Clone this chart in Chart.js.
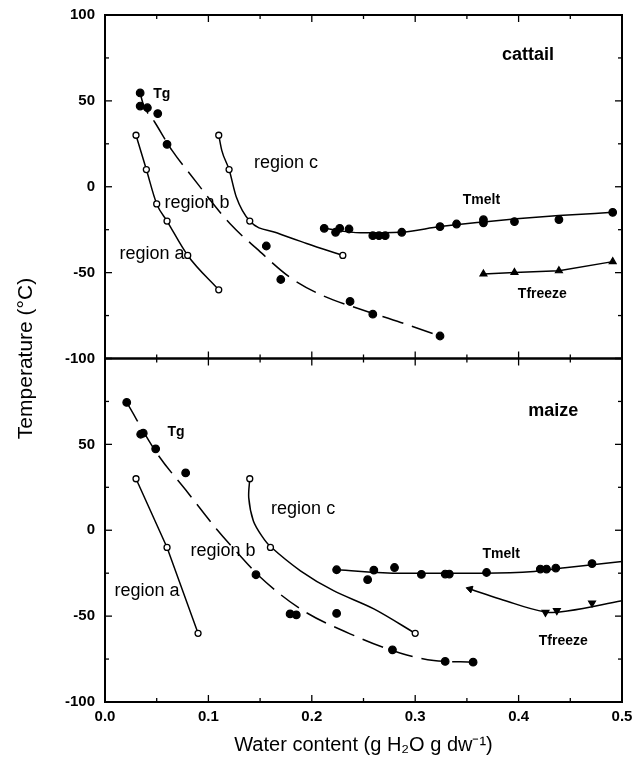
<!DOCTYPE html>
<html>
<head>
<meta charset="utf-8">
<script src="https://cdn.jsdelivr.net/npm/chart.js@4.4.1/dist/chart.umd.min.js"></script>
<style>html,body{margin:0;padding:0;background:#fff;}canvas{display:block;}</style>
</head>
<body>
<canvas id="c" width="635" height="775"></canvas>
<script>
// ---- tick labels ----
const xTicks = [0.0, 0.1, 0.2, 0.3, 0.4, 0.5];
const yTicks = [-100, -50, 0, 50, 100];

// ---- cattail (top panel) ----
const cattailTg = [[0.034,54.6],[0.034,47.0],[0.041,46.0],[0.051,42.6],[0.060,24.7],[0.156,-34.5],[0.170,-54.0],[0.237,-66.8],[0.259,-74.2],[0.324,-86.9]];
const cattailTgFit = [[0.034,54.6],[0.037,48.0],[0.048,37.7],[0.065,21.0],[0.082,7.6],[0.121,-21.6],[0.147,-36.2],[0.179,-52.8],[0.211,-63.5],[0.247,-71.3],[0.286,-79.0],[0.324,-86.9]];
const cattailRegionA = [[0.03,30],[0.04,10],[0.05,-10],[0.06,-20],[0.08,-40],[0.11,-60]];
const cattailRegionC = [[0.11,30],[0.12,10],[0.14,-20],[0.23,-40]];
const cattailRegionCFit = [[0.11,30],[0.113,21],[0.12,10],[0.127,-6],[0.14,-20],[0.166,-26.8],[0.195,-33],[0.23,-40]];
const cattailTmelt = [[0.212,-24.2],[0.223,-26.5],[0.227,-24.2],[0.236,-24.6],[0.259,-28.5],[0.265,-28.5],[0.271,-28.5],[0.287,-26.5],[0.324,-23.2],[0.340,-21.7],[0.366,-19.2],[0.366,-21.0],[0.396,-20.3],[0.439,-19.1],[0.491,-14.9]];
const cattailTmeltFit = [[0.212,-24.2],[0.247,-26.8],[0.286,-26.5],[0.324,-23.2],[0.366,-20.5],[0.398,-18.7],[0.439,-16.8],[0.491,-14.9]];
const cattailTfreeze = [[0.366,-50.8],[0.396,-49.9],[0.439,-48.9],[0.491,-43.6]];

// ---- maize (bottom panel) ----
const maizeTg = [[0.021,74.4],[0.0345,55.9],[0.037,56.5],[0.049,47.4],[0.078,33.4],[0.146,-25.9],[0.179,-48.7],[0.185,-49.3],[0.224,-48.4],[0.278,-69.6],[0.329,-76.4],[0.356,-76.8]];
const maizeTgFit = [[0.021,74.4],[0.050,45.0],[0.080,22.0],[0.108,0.6],[0.137,-19.0],[0.147,-25.5],[0.189,-45.8],[0.237,-60.3],[0.286,-71.6],[0.318,-75.8],[0.356,-76.8]];
const maizeRegionA = [[0.03,30],[0.06,-10],[0.09,-60]];
const maizeRegionC = [[0.14,30],[0.16,-10],[0.30,-60]];
const maizeRegionCFit = [[0.14,30],[0.139,19],[0.1435,5.4],[0.1516,-3.3],[0.16,-9.5],[0.189,-23.6],[0.221,-35.2],[0.26,-45.8],[0.30,-60]];
const maizeTmelt = [[0.224,-23.0],[0.254,-28.8],[0.260,-23.2],[0.280,-21.7],[0.306,-25.7],[0.329,-25.5],[0.333,-25.5],[0.369,-24.6],[0.421,-22.6],[0.427,-22.6],[0.436,-22.0],[0.471,-19.4]];
const maizeTmeltFit = [[0.224,-23.0],[0.286,-25.0],[0.366,-25.0],[0.415,-24.0],[0.447,-21.7],[0.5,-18.2]];
const maizeTfreeze = [[0.426,-47.8],[0.437,-46.8],[0.471,-42.4]];
const maizeTfreezeFit = [[0.353,-34.2],[0.382,-40.0],[0.426,-47.6],[0.447,-47.0],[0.5,-41.0]];

// ---- in-plot text (label, x, temperature, kind) ----
const cattailLabels = [['Tg',0.055,53.9,'s'],['region c',0.175,13.6,'r'],['region b',0.089,-9.2,'r'],['region a',0.0455,-38.9,'r'],['Tmelt',0.364,-8,'s'],['Tfreeze',0.423,-62.3,'s'],['cattail',0.409,76.6,'p']];
const maizeLabels = [['Tg',0.0687,57,'s'],['region c',0.1916,12.4,'r'],['region b',0.1142,-12,'r'],['region a',0.0406,-35.2,'r'],['Tmelt',0.3832,-13.7,'s'],['Tfreeze',0.4432,-64.8,'s'],['maize',0.4335,69.3,'p']];

const FONT = '"Liberation Sans", Arial, Helvetica, sans-serif';
Chart.defaults.font.family = FONT;
Chart.defaults.color = '#000';

const pts = a => a.map(([x, y]) => ({x, y}));
const datasets = [];
function addLine(data, yAxisID, extra) {
  datasets.push(Object.assign({
    data: pts(data), yAxisID, showLine: true, pointRadius: 0, pointHoverRadius: 0,
    borderColor: '#000', borderWidth: 1.5, cubicInterpolationMode: 'monotone', fill: false, order: 2
  }, extra || {}));
}
function addMarkers(data, yAxisID, kind) {
  const d = {data: pts(data), yAxisID, showLine: false, order: 0, borderColor: '#000',
    pointBorderColor: '#000', pointBorderWidth: 1.2, pointStyle: 'circle',
    pointRadius: 3.8, pointHoverRadius: 3.8, pointBackgroundColor: '#000'};
  if (kind === 'open') { d.pointRadius = 3; d.pointHoverRadius = 3; d.pointBackgroundColor = '#fff'; d.pointBorderWidth = 1.3; }
  if (kind === 'tri') { d.pointStyle = 'triangle'; d.pointRadius = 4; d.pointHoverRadius = 4; }
  if (kind === 'triDown') { d.pointStyle = 'triangle'; d.pointRadius = 4; d.pointHoverRadius = 4; d.pointRotation = 180; }
  datasets.push(d);
}

// top
addLine(cattailTgFit, 'yTop', {borderDash: [22, 9]});
addMarkers(cattailTg, 'yTop', 'filled');
addLine(cattailRegionA, 'yTop');
addMarkers(cattailRegionA, 'yTop', 'open');
addLine(cattailRegionCFit, 'yTop');
addMarkers(cattailRegionC, 'yTop', 'open');
addLine(cattailTmeltFit, 'yTop');
addMarkers(cattailTmelt, 'yTop', 'filled');
addLine(cattailTfreeze, 'yTop', {cubicInterpolationMode: 'default', tension: 0});
addMarkers(cattailTfreeze, 'yTop', 'tri');
// bottom
addLine(maizeTgFit, 'yBot', {borderDash: [22, 9]});
addMarkers(maizeTg, 'yBot', 'filled');
addLine(maizeRegionA, 'yBot', {cubicInterpolationMode: 'default', tension: 0});
addMarkers(maizeRegionA, 'yBot', 'open');
addLine(maizeRegionCFit, 'yBot', {cubicInterpolationMode: 'default', tension: 0.3});
addMarkers(maizeRegionC, 'yBot', 'open');
addLine(maizeTmeltFit, 'yBot');
addMarkers(maizeTmelt, 'yBot', 'filled');
addLine(maizeTfreezeFit, 'yBot', {
  cubicInterpolationMode: 'default', tension: 0.4,
  pointStyle: 'triangle', pointRotation: -72,
  pointRadius: c => c.dataIndex === 0 ? 4 : 0, pointBackgroundColor: '#000', pointBorderColor: '#000', pointBorderWidth: 1
});
addMarkers(maizeTfreeze, 'yBot', 'triDown');

const tickFont = {family: FONT, size: 15, weight: 'bold'};
function yScale(isBottom) {
  return {
    type: 'linear', position: 'left', stack: 'temp', stackWeight: 1, min: -100, max: 100,
    grid: {display: false, drawTicks: false}, border: {display: false},
    afterBuildTicks: s => { s.ticks = yTicks.map(v => ({value: v})); },
    ticks: {padding: 10, color: '#000', font: tickFont, autoSkip: false,
      callback: v => (isBottom && v === 100) ? '' : String(v)},
    afterFit: s => { s.width = 65; s.paddingTop = 0; s.paddingBottom = 0; }
  };
}

const framePlugin = {
  id: 'frame',
  afterDatasetsDraw(chart) {
    const {ctx, scales} = chart;
    const x = scales.x;
    const L = x.left, R = x.right;
    ctx.save();
    ctx.strokeStyle = '#000';
    const seg = (x1, y1, x2, y2) => { ctx.beginPath(); ctx.moveTo(x1, y1); ctx.lineTo(x2, y2); ctx.stroke(); };
    for (const ys of [scales.yTop, scales.yBot]) {
      const T = ys.top, B = ys.bottom;
      ctx.lineWidth = 1.3;
      for (let i = 0; i < xTicks.length; i++) {
        const px = x.getPixelForValue(xTicks[i]);
        seg(px, B, px, B - 7); seg(px, T, px, T + 7);
        if (i < xTicks.length - 1) {
          const pm = x.getPixelForValue((xTicks[i] + xTicks[i + 1]) / 2);
          seg(pm, B, pm, B - 4); seg(pm, T, pm, T + 4);
        }
      }
      for (let i = 0; i < yTicks.length; i++) {
        const py = ys.getPixelForValue(yTicks[i]);
        seg(L, py, L + 7, py); seg(R, py, R - 7, py);
        if (i < yTicks.length - 1) {
          const pm = ys.getPixelForValue((yTicks[i] + yTicks[i + 1]) / 2);
          seg(L, pm, L + 4, pm); seg(R, pm, R - 4, pm);
        }
      }
      ctx.lineWidth = 2;
      ctx.strokeRect(L, T, R - L, B - T);
    }
    // labels
    ctx.fillStyle = '#000';
    ctx.textAlign = 'center';
    ctx.textBaseline = 'middle';
    const fonts = {s: 'bold 14px ' + FONT, r: '18px ' + FONT, p: 'bold 18px ' + FONT};
    const drawLabels = (list, ys) => {
      for (const [t, vx, vy, k] of list) {
        ctx.font = fonts[k];
        ctx.fillText(t, x.getPixelForValue(vx), ys.getPixelForValue(vy));
      }
    };
    drawLabels(cattailLabels, scales.yTop);
    drawLabels(maizeLabels, scales.yBot);
    ctx.restore();
  }
};

new Chart(document.getElementById('c'), {
  type: 'scatter',
  data: {datasets},
  options: {
    responsive: false, animation: false, events: [],
    layout: {padding: {left: 0, top: 15, right: 13, bottom: 0}},
    plugins: {legend: {display: false}, tooltip: {enabled: false}},
    scales: {
      x: {
        type: 'linear', position: 'bottom', min: 0, max: 0.5,
        grid: {display: false, drawTicks: false}, border: {display: false},
        afterBuildTicks: s => { s.ticks = xTicks.map(v => ({value: v})); },
        ticks: {padding: 6, color: '#000', font: tickFont, autoSkip: false, maxRotation: 0, callback: v => v.toFixed(1)},
        title: {display: true, text: 'Water content (g H\u2082O g dw\u207B\u00B9)', color: '#000', font: {family: FONT, size: 20}, padding: {top: 0, bottom: 18}},
        afterFit: s => { s.height = 73; s.paddingLeft = 0; s.paddingRight = 0; }
      },
      yBot: yScale(true),
      yTop: yScale(false),
      yTitle: {
        type: 'linear', position: 'left', min: 0, max: 1,
        grid: {display: false, drawTicks: false}, border: {display: false},
        ticks: {display: false},
        title: {display: true, text: 'Temperature (\u00B0C)', color: '#000', font: {family: FONT, size: 21}, padding: {top: 14, bottom: 0}},
        afterFit: s => { s.width = 40; s.paddingTop = 0; s.paddingBottom = 0; }
      }
    }
  },
  plugins: [framePlugin]
});
</script>
</body>
</html>
